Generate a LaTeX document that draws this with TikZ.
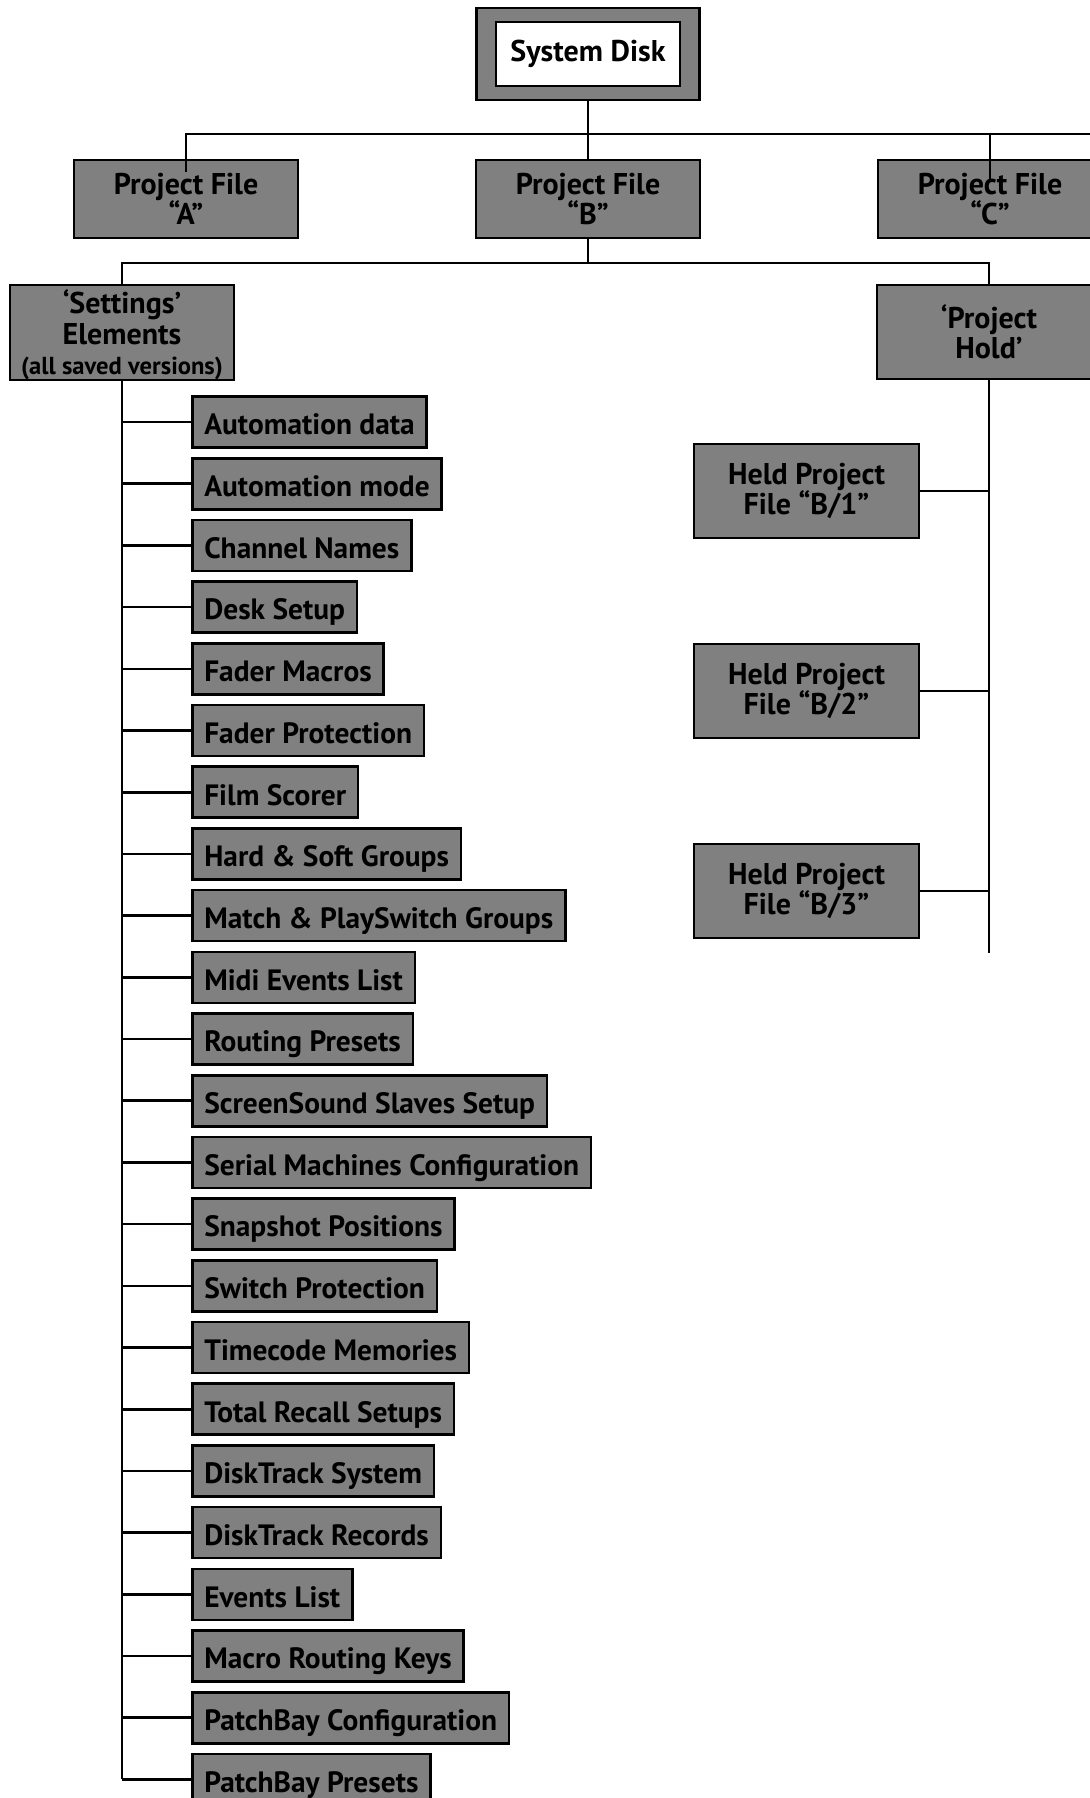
\documentclass[tikz,border=0pt]{standalone}
\usepackage{fontspec}
\setmainfont{PT Sans}
\usetikzlibrary{positioning}
\definecolor{boxgray}{gray}{0.5}
\tikzset{
  box/.style={draw, line width=1.3pt, fill=boxgray, align=center, inner sep=0pt,
    minimum width=112pt, font=\bfseries\fontsize{15}{15.2}\selectfont},
  item/.style={box, anchor=west, align=left, minimum width=0pt,
    minimum height=25.5pt, inner xsep=6pt, text height=12.8pt, text depth=0pt,
    font=\bfseries\fontsize{14.7}{15}\selectfont},
  link/.style={line width=1.3pt},
}
\begin{document}
\begin{tikzpicture}[x=0.5pt,y=-0.5pt]
  \useasboundingbox (0,0) rectangle (1090,1798);
  \clip (0,0) rectangle (1090,1798);
  % top of the tree
  \node[box, minimum width=111.5pt, minimum height=46pt] (disk) at (588,54) {};
  \node[box, fill=white, minimum width=92pt, minimum height=32pt] (disklabel) at (disk) {System Disk};
  \node[box, minimum height=39pt] (projA) at (186,199) {Project File\\“A”};
  \node[box, minimum height=39pt] (projB) at (588,199) {Project File\\“B”};
  \node[box, minimum height=39pt] (projC) at (990,199) {Project File\\“C”};
  \coordinate (bus1) at (588,134);
  \coordinate (busend) at (1090,134);
  \draw[link] (disk.south) -- (projB.north);
  \draw[link] ([yshift=-6.5pt]projA.north) -- (projA.north |- bus1) -- (busend);
  \draw[link] ([yshift=-10pt]projC.north) -- (projC.north |- bus1);
  % second level
  \node[box, minimum height=47.5pt] (settings) at (122,332.5)
    {\rule{0pt}{14.5pt}‘Settings’\\Elements\\{\fontsize{12.3}{15.2}\selectfont(all saved versions)}};
  \node[box, minimum height=47pt] (hold) at (989,332) {‘Project\\Hold’};
  \coordinate (bus2) at (588,263);
  \draw[link] (projB.south) -- (bus2);
  \draw[link] (settings.north) |- (bus2) -| (hold.north);
  % settings elements
  \foreach \txt [count=\i] in {Automation data, Automation mode, Channel Names,
      Desk Setup, Fader Macros, Fader Protection, Film Scorer, Hard \& Soft Groups,
      Match \& PlaySwitch Groups, Midi Events List, Routing Presets,
      ScreenSound Slaves Setup, Serial Machines Configuration, Snapshot Positions,
      Switch Protection, Timecode Memories, Total Recall Setups, DiskTrack System,
      DiskTrack Records, Events List, Macro Routing Keys, PatchBay Configuration,
      PatchBay Presets}
  {
    \node[item] (elem\i) at (191,{422+61.7*(\i-1)}) {\txt};
    \draw[link] (settings.south |- elem\i) -- (elem\i.west);
  }
  \draw[link] (settings.south) -- (settings.south |- elem23);
  % held project files
  \coordinate (holdend) at (989,953);
  \draw[link] (hold.south) -- (holdend);
  \foreach \n/\y in {1/491, 2/691, 3/891}
  {
    \node[box, minimum width=112.5pt, minimum height=47pt] (held\n) at (806.5,\y)
      {Held Project\\File “B/\n”};
    \draw[link] (held\n.east) -- (held\n.east -| hold.south);
  }
\end{tikzpicture}
\end{document}
